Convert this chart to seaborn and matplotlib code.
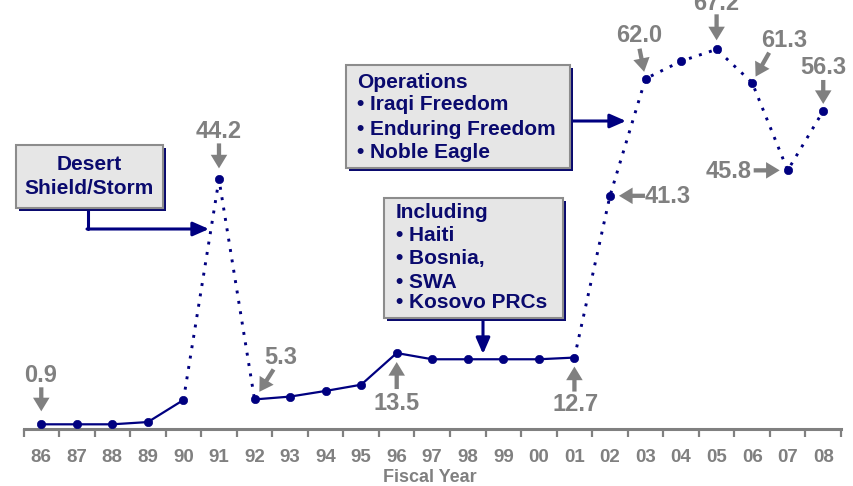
import numpy as np
import pandas as pd
import matplotlib
matplotlib.use("Agg")
import matplotlib.pyplot as plt
import seaborn as sns
from matplotlib.patches import Rectangle

# Fiscal years and personnel values (thousands)
years = ["86", "87", "88", "89", "90", "91", "92", "93", "94", "95", "96", "97",
         "98", "99", "00", "01", "02", "03", "04", "05", "06", "07", "08"]
values = [0.9, 0.9, 0.9, 1.3, 5.2, 44.2, 5.3, 5.8, 6.8, 7.9, 13.5, 12.4,
          12.4, 12.4, 12.4, 12.7, 41.3, 62.0, 65.1, 67.2, 61.3, 45.8, 56.3]

# Runs of the series drawn solid vs dotted (start, end index inclusive)
solid_runs = [(0, 4), (6, 15)]
dotted_runs = [(4, 6), (15, 22)]

# Points carrying a value callout
callouts = [0, 5, 6, 10, 15, 16, 17, 19, 20, 21, 22]

# Callout boxes
box_desert = ["Desert", "Shield/Storm"]
box_ops = ["Operations", "\u2022 Iraqi Freedom", "\u2022 Enduring Freedom", "\u2022 Noble Eagle"]
box_incl = ["Including", "\u2022 Haiti", "\u2022 Bosnia,", "\u2022 SWA", "\u2022 Kosovo PRCs"]

NAVY = "#000080"
TEXT_NAVY = "#0a0a6e"
GRAY = "#808080"
W, H = 854, 486

sns.set_theme(style="white")
plt.rcParams["font.family"] = ["Liberation Sans", "DejaVu Sans"]
plt.rcParams["font.weight"] = "bold"

fig = plt.figure(figsize=(W / 100, H / 100), dpi=100)
ax_left, ax_right = 23.5, 841.0
ax_bottom_px = 429.4
ax = fig.add_axes([ax_left / W, (H - ax_bottom_px) / H, (ax_right - ax_left) / W, ax_bottom_px / H])
ax.set_xlim(-0.5, len(years) - 0.5)
ax.set_ylim(0, ax_bottom_px / 5.656)

df = pd.DataFrame({"pos": np.arange(len(years)), "value": values, "year": years})

for a, b in solid_runs:
    seg = df.iloc[a:b + 1]
    sns.lineplot(data=seg, x="pos", y="value", ax=ax, color=NAVY, lw=1.6,
                 linestyle="-", zorder=2, legend=False)
for a, b in dotted_runs:
    seg = df.iloc[a:b + 1]
    sns.lineplot(data=seg, x="pos", y="value", ax=ax, color=NAVY, lw=2.1,
                 linestyle=(0, (1.0, 2.6)), zorder=2, legend=False)
sns.scatterplot(data=df, x="pos", y="value", ax=ax, color=NAVY, edgecolor=NAVY,
                s=36, zorder=3, legend=False, clip_on=False)

# Axes styling
for side in ["left", "top", "right"]:
    ax.spines[side].set_visible(False)
ax.spines["bottom"].set_color(GRAY)
ax.spines["bottom"].set_linewidth(2.2)
ax.set_yticks([])
ax.set_xticks(df["pos"])
ax.set_xticklabels(years, color=GRAY, fontsize=13.5, fontweight="bold")
ax.set_xticks(np.arange(-0.5, len(years), 1), minor=True)
ax.tick_params(axis="x", which="major", length=0, pad=14)
ax.tick_params(axis="x", which="minor", length=6, width=1.6, color=GRAY, direction="out", bottom=True)
ax.set_xlabel("")
ax.set_ylabel("")
fig.text(430 / W, 1 - 477 / H, "Fiscal Year", ha="center", va="center",
         color=GRAY, fontsize=13, fontweight="bold")

# Value callouts, in pixels relative to the marked point:
# text offset (dx, dy), arrow tail offset (dx, dy), gap between arrow tip and point
callout_layout = {
    0: ((-1, 49), (0, 37), 13),
    5: ((0, 48), (0, 36), 11),
    6: ((26, 42), (19, 30), 9),
    10: ((0, -50), (0, -36), 9),
    15: ((1, -47), (0, -34), 9),
    16: ((58, -1), (35, 0), 9),
    17: ((-6, 43), (-6, 30), 7),
    19: ((0, 46), (0, 35), 9),
    20: ((32, 42), (17, 30), 7),
    21: ((-59, -1), (-34, 0), 8),
    22: ((0, 43), (0, 31), 7),
}
for i in callouts:
    (tdx, tdy), (adx, ady), gap = callout_layout[i]
    ax.annotate(f"{values[i]:.1f}", xy=(i, values[i]), xytext=(tdx, tdy),
                textcoords="offset pixels", ha="center", va="center",
                color=GRAY, fontsize=17, fontweight="bold", annotation_clip=False)
    ax.annotate("", xy=(i, values[i]), xytext=(adx, ady), textcoords="offset pixels",
                annotation_clip=False,
                arrowprops=dict(arrowstyle="simple,head_length=0.7,head_width=0.85,tail_width=0.22",
                                mutation_scale=14, color=GRAY, lw=0,
                                shrinkA=0, shrinkB=gap * 0.72))


def draw_box(x0, y0, x1, y1):
    """Grey box with navy drop shadow, coordinates in pixels from top-left."""
    fig.add_artist(Rectangle(((x0 + 3) / W, 1 - (y1 + 3) / H), (x1 - x0) / W, (y1 - y0) / H,
                             transform=fig.transFigure, facecolor=TEXT_NAVY,
                             edgecolor="none", zorder=4))
    fig.add_artist(Rectangle((x0 / W, 1 - y1 / H), (x1 - x0) / W, (y1 - y0) / H,
                             transform=fig.transFigure, facecolor="#e6e6e6",
                             edgecolor="#8c8c8c", lw=1.5, zorder=5))


def box_lines(lines, x, ys, ha):
    for line, y in zip(lines, ys):
        fig.text(x / W, 1 - y / H, line, ha=ha, va="center", color=TEXT_NAVY,
                 fontsize=15, fontweight="bold", zorder=6)


def navy_arrow(p0, p1):
    ax.annotate("", xy=(p1[0], H - p1[1]), xycoords="figure pixels",
                xytext=(p0[0], H - p0[1]), textcoords="figure pixels",
                arrowprops=dict(arrowstyle="-|>,head_length=0.8,head_width=0.35",
                                color=NAVY, lw=2.2, shrinkA=0, shrinkB=0),
                annotation_clip=False)


# Desert Shield/Storm
draw_box(16, 145, 163, 208)
box_lines(box_desert, 89.5, [164, 189], "center")
fig.add_artist(plt.Line2D([88 / W, 88 / W], [1 - 209 / H, 1 - 229 / H],
                          transform=fig.transFigure, color=NAVY, lw=2.2, zorder=3))
navy_arrow((87, 229), (209, 229))

# Operations box
draw_box(346, 65, 570, 168)
box_lines(box_ops, 357, [83, 105, 129, 152], "left")
navy_arrow((571, 121), (626, 121))

# Including box
draw_box(384, 198, 563, 318)
box_lines(box_incl, 396, [212, 235, 258, 282, 303], "left")
navy_arrow((483, 319), (483, 354))

fig.savefig("out.png", dpi=100)
